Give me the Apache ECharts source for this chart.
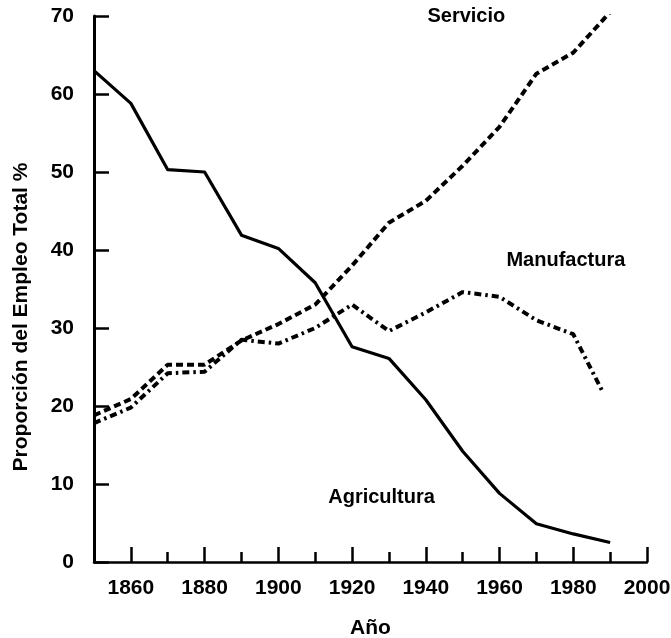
<!DOCTYPE html>
<html>
<head>
<meta charset="utf-8">
<script src="https://cdn.jsdelivr.net/npm/echarts@6/dist/echarts.min.js"></script>
<style>
  html, body { margin: 0; padding: 0; background: #fff; }
  #chart { width: 671px; height: 638px; }
</style>
</head>
<body>
<div id="chart"></div>
<script>
const years = [1850, 1860, 1870, 1880, 1890, 1900, 1910, 1920, 1930, 1940, 1950, 1960, 1970, 1980, 1990];
const manufacturaYears = [1850, 1860, 1870, 1880, 1890, 1900, 1910, 1920, 1930, 1940, 1950, 1960, 1970, 1980, 1988];

const agricultura = [63.0, 58.8, 50.3, 50.0, 41.9, 40.2, 35.8, 27.6, 26.1, 20.8, 14.2, 8.8, 4.9, 3.6, 2.5];
const servicio = [18.8, 20.9, 25.3, 25.3, 28.4, 30.5, 33.0, 38.0, 43.5, 46.3, 50.8, 55.8, 62.6, 65.3, 70.5];
const manufactura = [17.8, 19.8, 24.2, 24.4, 28.5, 28.0, 30.0, 33.0, 29.6, 32.0, 34.6, 34.0, 31.0, 29.2, 21.8];

const majorYears = [1860, 1880, 1900, 1920, 1940, 1960, 1980, 2000];

// where the three series names sit, in data units
const labelSpots = {
  Servicio: [1951, 70.0],
  Manufactura: [1978, 38.7],
  Agricultura: [1928, 8.3],
};

const font = "'Liberation Sans', Arial, sans-serif";
const chart = echarts.init(document.getElementById("chart"));

function pairs(xs, ys) {
  return ys.map((v, i) => [xs[i], v]);
}

function nameMark(name) {
  return {
    symbol: "circle",
    symbolSize: 1,
    itemStyle: { color: "rgba(0,0,0,0)" },
    label: {
      show: true,
      position: "inside",
      formatter: name,
      color: "#000",
      fontFamily: font,
      fontWeight: "bold",
      fontSize: 20,
    },
    data: [{ name: name, coord: labelSpots[name] }],
  };
}

const tickLabel = { color: "#000", fontFamily: font, fontWeight: "bold", fontSize: 21 };

chart.setOption({
  animation: false,
  backgroundColor: "#fff",
  grid: { left: 94, right: 24, top: 16, bottom: 76, outerBoundsMode: "none" },
  xAxis: [
    {
      type: "value",
      min: 1850,
      max: 2000,
      interval: 10,
      name: "Año",
      nameLocation: "middle",
      nameGap: 56,
      nameTextStyle: { ...tickLabel },
      axisLine: { onZero: false, lineStyle: { color: "#000", width: 2.5 } },
      axisTick: { inside: true, length: 10, lineStyle: { color: "#000", width: 2.5 } },
      axisLabel: {
        ...tickLabel,
        margin: 16,
        formatter: (v) => (v % 20 === 0 ? String(v) : ""),
      },
      splitLine: { show: false },
    },
    {
      type: "value",
      min: 1850,
      max: 2000,
      position: "bottom",
      axisLine: { show: false },
      axisTick: {
        inside: true,
        length: 15,
        customValues: majorYears,
        lineStyle: { color: "#000", width: 2.5 },
      },
      axisLabel: { show: false },
      splitLine: { show: false },
    },
  ],
  yAxis: {
    type: "value",
    min: 0,
    max: 70,
    interval: 10,
    name: "Proporción del Empleo Total %",
    nameLocation: "middle",
    nameGap: 62,
    nameTextStyle: { ...tickLabel, fontSize: 21, padding: [0, 56, 0, 0] },
    axisLine: { lineStyle: { color: "#000", width: 3 } },
    axisTick: { inside: true, length: 15, lineStyle: { color: "#000", width: 2.5 } },
    axisLabel: { ...tickLabel, margin: 20 },
    splitLine: { show: false },
  },
  series: [
    {
      name: "Agricultura",
      type: "line",
      data: pairs(years, agricultura),
      symbol: "none",
      lineStyle: { color: "#000", width: 3.2, join: "round" },
      markPoint: nameMark("Agricultura"),
    },
    {
      name: "Servicio",
      type: "line",
      data: pairs(years, servicio),
      symbol: "none",
      lineStyle: { color: "#000", width: 4, type: [7, 4] },
      markPoint: nameMark("Servicio"),
    },
    {
      name: "Manufactura",
      type: "line",
      data: pairs(manufacturaYears, manufactura),
      symbol: "none",
      lineStyle: { color: "#000", width: 4, type: [7, 4, 2.5, 4] },
      markPoint: nameMark("Manufactura"),
    },
  ],
});
</script>
</body>
</html>
